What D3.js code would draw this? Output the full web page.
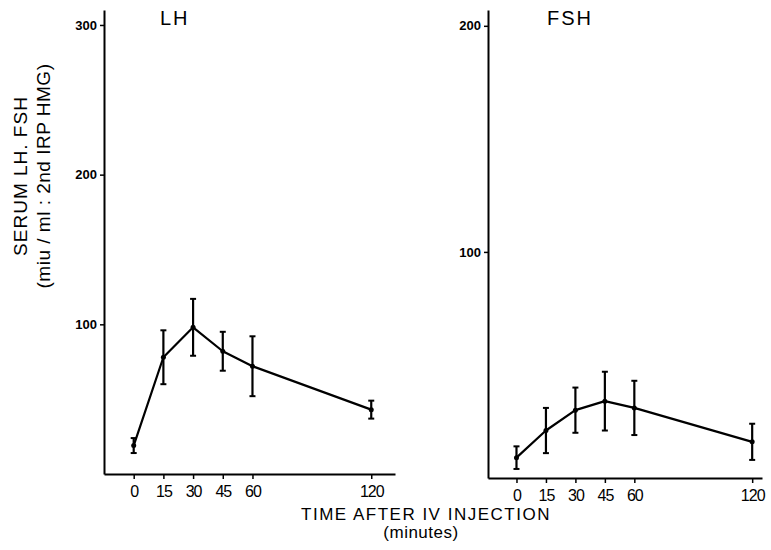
<!DOCTYPE html>
<html>
<head>
<meta charset="utf-8">
<script src="https://cdn.jsdelivr.net/npm/d3@7"></script>
<style>
  body { margin: 0; background: #fff; }
  text { font-family: "Liberation Sans", Arial, sans-serif; fill: #000; }
</style>
</head>
<body>
<div id="chart"></div>
<script>
// time after injection (minutes)
const times = [0, 15, 30, 45, 60, 120];
const timeTicks = [0, 15, 30, 45, 60, 120];

// LH mean and error
const lhMean = [19, 78, 98, 82, 72, 43];
const lhErr = [5, 18, 19, 13, 20, 6];
const lhTicks = [100, 200, 300];

// FSH mean and error
const fshMean = [9, 21, 30, 34, 31, 16];
const fshErr = [5, 10, 10, 13, 12, 8];
const fshTicks = [100, 200];

const W = 771, H = 550;
const svg = d3.select('#chart').append('svg')
  .attr('width', W).attr('height', H);

function panel(opt) {
  let x = d3.scaleLinear().domain(opt.xDomain).range(opt.xRange);
  let y = d3.scaleLinear().domain(opt.yDomain).range(opt.yRange);
  let g = svg.append('g');

  // x axis
  let xa = g.append('g')
    .attr('transform', 'translate(0,' + opt.yRange[0] + ')')
    .call(d3.axisBottom(x).tickValues(timeTicks).tickSize(5).tickPadding(7).tickSizeOuter(0));
  xa.select('.domain').attr('stroke', '#000').attr('stroke-width', 2);
  xa.selectAll('.tick line').attr('stroke-width', 1.5);
  xa.selectAll('.tick text').attr('font-size', 16).attr('letter-spacing', '-1px');

  // y axis
  let ya = g.append('g')
    .attr('transform', 'translate(' + opt.xRange[0] + ',0)')
    .call(d3.axisLeft(y).tickValues(opt.yTicks).tickSize(4).tickPadding(3).tickSizeOuter(0));
  ya.select('.domain').attr('stroke', '#000').attr('stroke-width', 2);
  ya.selectAll('.tick line').attr('stroke-width', 1.5);
  ya.selectAll('.tick text').attr('font-size', 13).attr('font-weight', 'bold');

  let pts = times.map((t, i) => ({t: t, m: opt.mean[i], e: opt.err[i]}));

  let line = d3.line()
    .x(d => x(d.t))
    .y(d => y(d.m));

  g.append('path')
    .datum(pts)
    .attr('fill', 'none')
    .attr('stroke', '#000')
    .attr('stroke-width', 2.2)
    .attr('stroke-linejoin', 'round')
    .attr('d', line);

  let eb = g.selectAll('.eb').data(pts).enter().append('g');
  eb.append('line')
    .attr('x1', d => x(d.t)).attr('x2', d => x(d.t))
    .attr('y1', d => y(d.m + d.e)).attr('y2', d => y(d.m - d.e))
    .attr('stroke', '#000').attr('stroke-width', 2.2);
  eb.append('line')
    .attr('x1', d => x(d.t) - 3).attr('x2', d => x(d.t) + 3)
    .attr('y1', d => y(d.m + d.e)).attr('y2', d => y(d.m + d.e))
    .attr('stroke', '#000').attr('stroke-width', 2);
  eb.append('line')
    .attr('x1', d => x(d.t) - 3).attr('x2', d => x(d.t) + 3)
    .attr('y1', d => y(d.m - d.e)).attr('y2', d => y(d.m - d.e))
    .attr('stroke', '#000').attr('stroke-width', 2);
  eb.append('circle')
    .attr('cx', d => x(d.t)).attr('cy', d => y(d.m))
    .attr('r', 2.5).attr('fill', '#000');

  g.append('text')
    .attr('x', opt.titleX).attr('y', 25)
    .attr('font-size', 20)
    .attr('letter-spacing', '2px')
    .text(opt.title);
}

panel({
  xDomain: [-15, 132], xRange: [104, 395],
  yDomain: [0, 310], yRange: [474, 10],
  yTicks: lhTicks, mean: lhMean, err: lhErr,
  title: 'LH', titleX: 160
});

panel({
  xDomain: [-14.5, 125], xRange: [488, 762],
  yDomain: [0, 207], yRange: [478, 10],
  yTicks: fshTicks, mean: fshMean, err: fshErr,
  title: 'FSH', titleX: 547
});

// axis titles
svg.append('text')
  .attr('transform', 'translate(27,176) rotate(-90)')
  .attr('text-anchor', 'middle')
  .attr('font-size', 19)
  .attr('letter-spacing', '1px')
  .text('SERUM LH. FSH');
svg.append('text')
  .attr('transform', 'translate(50,176) rotate(-90)')
  .attr('text-anchor', 'middle')
  .attr('font-size', 19)
  .attr('letter-spacing', '0.5px')
  .text('(miu / ml : 2nd IRP HMG)');

svg.append('text')
  .attr('x', 426).attr('y', 520)
  .attr('text-anchor', 'middle')
  .attr('font-size', 17)
  .attr('letter-spacing', '1.5px')
  .text('TIME AFTER IV INJECTION');
svg.append('text')
  .attr('x', 421).attr('y', 538)
  .attr('text-anchor', 'middle')
  .attr('font-size', 17)
  .attr('letter-spacing', '0.5px')
  .text('(minutes)');
</script>
</body>
</html>
